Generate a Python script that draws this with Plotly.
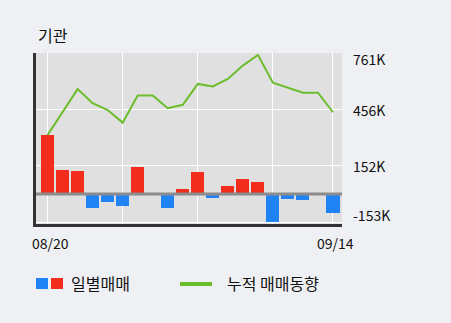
import plotly.graph_objects as go

dates = ["08/20", "08/21", "08/22", "08/23", "08/24",
         "08/27", "08/28", "08/29", "08/30", "08/31",
         "09/03", "09/04", "09/05", "09/06", "09/07",
         "09/10", "09/11", "09/12", "09/13", "09/14"]
daily = [318, 128, 123, -76, -43, -65, 145, 0, -76, 25,
         118, -22, 42, 80, 63, -152, -27, -33, 0, -103]
cumulative = [318, 442, 566, 490, 453, 385, 531, 531, 463, 481,
              594, 580, 621, 693, 751, 601, 574, 547, 547, 441]
y_ticks = [761, 456, 152, -153]
y_tick_text = ["761K", "456K", "152K", "-153K"]
x_grid = ["08/20", "08/27", "09/03", "09/10", "09/14"]
x_labels = ["08/20", "09/14"]

RED = "#f22d1c"
BLUE = "#1f83f5"
GREEN = "#6cbd2b"
FONT = "Noto Sans CJK KR"

bar_colors = [RED if v > 0 else BLUE for v in daily]

fig = go.Figure()
fig.add_trace(go.Bar(x=dates, y=daily, marker=dict(color=bar_colors, line=dict(width=0)),
                     width=0.87, showlegend=False))
fig.add_trace(go.Scatter(x=dates, y=cumulative, mode="lines",
                         line=dict(color=GREEN, width=2), showlegend=False))

fig.update_layout(
    width=451, height=323,
    margin=dict(l=36, r=109, t=53, b=99),
    paper_bgcolor="#eef0f4", plot_bgcolor="#e0e0e0",
    font=dict(family=FONT, size=14, color="#111"),
    bargap=0,
    xaxis=dict(type="category", range=[-0.77, 19.6], tickvals=x_grid,
               showticklabels=False, showgrid=True, gridcolor="#ffffff", gridwidth=1,
               showline=True, linecolor="#333333", linewidth=3, ticks="",
               zeroline=False, fixedrange=True),
    yaxis=dict(range=[-162.5, 761], tickvals=y_ticks, showticklabels=False,
               showgrid=True, gridcolor="#ffffff", gridwidth=1, zeroline=False,
               showline=True, linecolor="#333333", linewidth=3, ticks="",
               fixedrange=True),
)

# zero line on top of bars
fig.add_shape(type="line", xref="paper", x0=0, x1=1, yref="y", y0=0, y1=0,
              line=dict(color="#8c8c8c", width=3), layer="above")

shifts = [-6, -1, 0, 7]
for v, t, s in zip(y_ticks, y_tick_text, shifts):
    fig.add_annotation(x=1, xref="paper", xanchor="left", xshift=9, y=v, yref="y",
                       yshift=s, text=t, showarrow=False,
                       font=dict(family=FONT, size=14, color="#111"))

for d in x_labels:
    fig.add_annotation(x=d, xref="x", y=0, yref="paper", yanchor="top", yshift=-7,
                       xshift=3, text=d, showarrow=False,
                       font=dict(family=FONT, size=14, color="#111"))

fig.add_annotation(x=0, xref="paper", xanchor="left", xshift=0, y=1, yref="paper",
                   yanchor="middle", yshift=18, text="기관", showarrow=False,
                   font=dict(family=FONT, size=16, color="#111"))

# legend
fig.add_shape(type="rect", xref="paper", yref="paper", x0=0, x1=12/306,
              y0=-65/171, y1=-54/171, fillcolor=BLUE, line=dict(width=0))
fig.add_shape(type="rect", xref="paper", yref="paper", x0=15/306, x1=27/306,
              y0=-65/171, y1=-54/171, fillcolor=RED, line=dict(width=0))
fig.add_annotation(x=33/306, xref="paper", xanchor="left", y=-59/171, yref="paper",
                   yanchor="middle", text="일별매매", showarrow=False,
                   font=dict(family=FONT, size=16, color="#111"))
fig.add_shape(type="line", xref="paper", yref="paper", x0=144/306, x1=176/306,
              y0=-60/171, y1=-60/171, line=dict(color=GREEN, width=4))
fig.add_annotation(x=189/306, xref="paper", xanchor="left", y=-59/171, yref="paper",
                   yanchor="middle", text="누적 매매동향", showarrow=False,
                   font=dict(family=FONT, size=16, color="#111"))

fig.write_html("out.html")
